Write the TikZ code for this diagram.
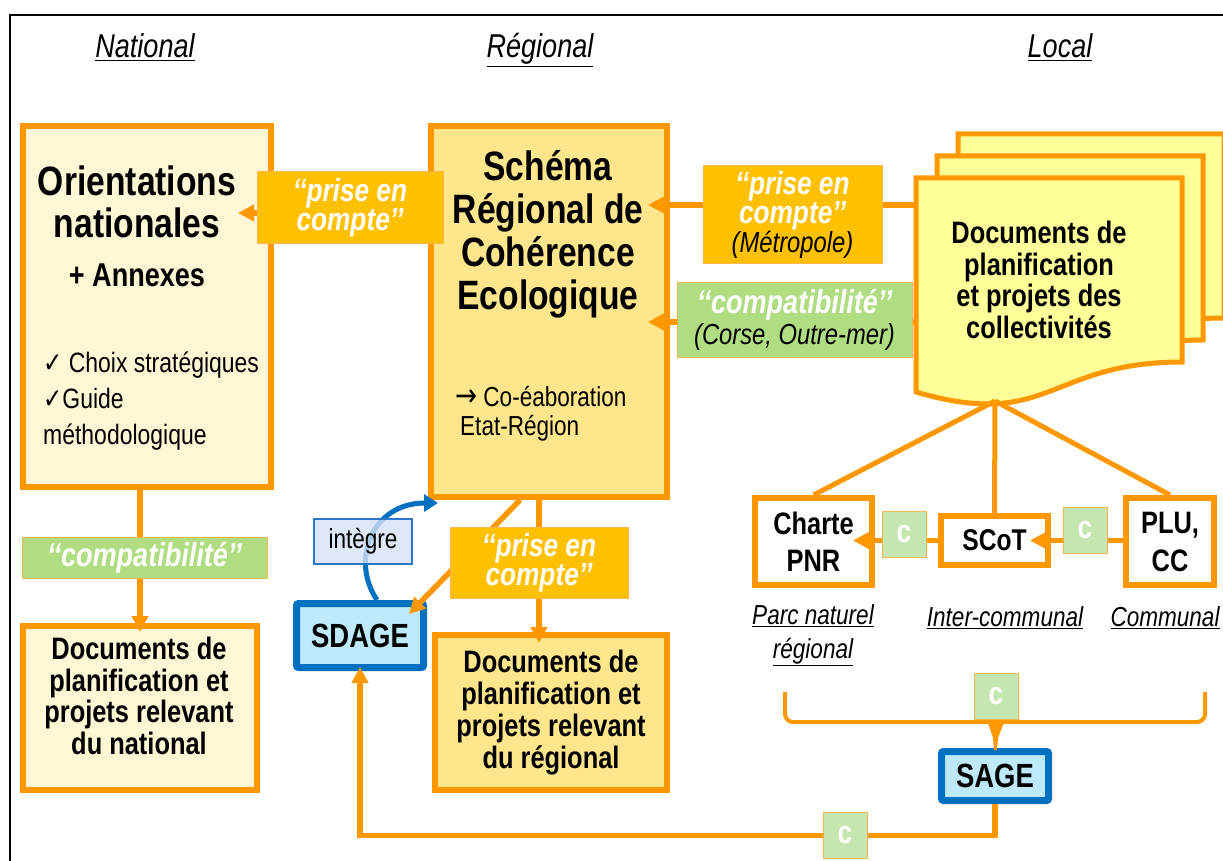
\documentclass[tikz,border=0pt]{standalone}
\usepackage{fontspec}
\setmainfont{Liberation Sans}[FakeStretch=0.82]
\newfontfamily\symbfont{DejaVu Sans}[FakeStretch=0.82]
\usetikzlibrary{arrows.meta}

\definecolor{orng}{RGB}{255,152,0}
\definecolor{cream}{RGB}{255,246,214}
\definecolor{gold}{RGB}{255,229,140}
\definecolor{docyel}{RGB}{255,255,153}
\definecolor{amber}{RGB}{255,192,0}
\definecolor{tagline}{RGB}{250,182,80}
\definecolor{compgreen}{RGB}{176,220,130}
\definecolor{cgreen}{RGB}{197,229,177}
\definecolor{sdblue}{RGB}{0,112,192}
\definecolor{sdfill}{RGB}{190,233,250}
\definecolor{intfill}{RGB}{214,225,245}
\definecolor{intline}{RGB}{46,117,200}

\tikzset{
  box/.style={draw=orng, line width=6pt, inner sep=0pt, align=center,
    font=\bfseries\fontsize{31}{32}\selectfont},
  bluebox/.style={draw=sdblue, fill=sdfill, line width=7pt, rounded corners=2pt,
    inner sep=0pt, minimum width=107pt, minimum height=49pt,
    font=\bfseries\fontsize{33.5}{34}\selectfont},
  title/.style={align=center, inner sep=0pt, font=\bfseries\fontsize{41}{42}\selectfont},
  doctext/.style={align=center, inner sep=0pt, font=\bfseries\fontsize{31}{31.5}\selectfont},
  plain/.style={inner sep=0pt, font=\fontsize{28}{36}\selectfont},
  heading/.style={inner sep=0pt, anchor=base, font=\itshape\fontsize{33}{33}\selectfont},
  levellabel/.style={inner sep=0pt, align=center, font=\itshape\fontsize{27.5}{34}\selectfont},
  tagbox/.style={draw=tagline, line width=1pt, fill=amber, text=white, inner sep=0pt,
    align=center, font=\bfseries\itshape\fontsize{32}{29}\selectfont},
  compbox/.style={tagbox, fill=compgreen, font=\bfseries\itshape\fontsize{33}{31}\selectfont},
  ctag/.style={draw=tagline, line width=1pt, fill=cgreen, text=white, inner sep=0pt,
    minimum width=44pt, minimum height=46pt, font=\bfseries\fontsize{32}{30}\selectfont},
  docpage/.style={draw=orng, fill=docyel, line width=5pt},
  link/.style={draw=orng, line width=5pt},
  conn/.style={draw=orng, line width=5.5pt, -{Triangle[length=16pt,width=16pt]}},
}
\newcommand{\note}[1]{{\mdseries\itshape\fontsize{29}{29}\selectfont\color{black}#1}}

\begin{document}
\begin{tikzpicture}[x=1pt, y=-1pt]
\useasboundingbox (0,0) rectangle (1223,861);
\draw[line width=2pt] (10,861) -- (10,15) -- (1223,15);

% levels
\node[heading] (hnat) at (145,58) {\underline{National}};
\node[heading] (hreg) at (540,58) {\underline{Régional}};
\node[heading] (hloc) at (1060,58) {\underline{Local}};

% national
\node[box, fill=cream, minimum width=248pt, minimum height=361pt] (orient) at (147,306.5) {};
\node[title] (orientT) at (137,202) {Orientations\\nationales};
\node[inner sep=0pt, font=\bfseries\fontsize{33}{33}\selectfont] (orientA) at (137,275) {+ Annexes};
\node[plain, anchor=west, align=left] (orientL) at (43,401)
  {{\symbfont ✓} Choix stratégiques\\{\symbfont ✓}Guide\\méthodologique};
\node[box, fill=cream, minimum width=234pt, minimum height=164pt] (natdocs) at (140,708) {};
\node[doctext] (natdocsT) at (139,696) {Documents de\\planification et\\projets relevant\\du national};

% regional
\node[box, fill=gold, minimum width=236pt, minimum height=371pt] (srce) at (549,311.5) {};
\node[title, font=\bfseries\fontsize{41}{43}\selectfont] (srceT) at (548,234) {Schéma\\Régional de\\Cohérence\\Ecologique};
\node[plain, anchor=west, align=left, font=\fontsize{27.5}{29}\selectfont] (srceN) at (455,414)
  {{\symbfont\fontsize{32}{29}\selectfont →} Co-éaboration\\\hspace*{5pt}Etat-Région};
\node[box, fill=gold, minimum width=232pt, minimum height=155pt] (regdocs) at (551,712.5)
  {Documents de\\planification et\\projets relevant\\du régional};
\node[bluebox, minimum width=127pt, minimum height=64pt] (sdage) at (360,635.5) {SDAGE};

% local
\foreach \d in {2,1,0}
  \draw[docpage, shift={(21*\d,-22*\d)}] (916,178) -- (1182,178) -- (1182,362)
    .. controls (1049,362) and (1049,431) .. (916,392) -- cycle;
\node[doctext] (docsT) at (1039,280) {Documents de\\planification\\et projets des\\collectivités};
\coordinate (docL1) at (916,205);
\coordinate (docL2) at (916,322);
\coordinate (docbot) at (995,401);

\node[box, fill=white, minimum width=117pt, minimum height=87pt,
  font=\bfseries\fontsize{31}{37}\selectfont] (charte) at (813.5,541.5) {Charte\\PNR};
\node[box, fill=white, minimum width=107pt, minimum height=49pt,
  font=\bfseries\fontsize{30}{30}\selectfont] (scot) at (994.5,540.5) {SCoT};
\node[box, fill=white, minimum width=88pt, minimum height=87pt,
  font=\bfseries\fontsize{31}{38}\selectfont] (plu) at (1170,541.5) {PLU,\\CC};
\node[levellabel] (lpnr) at (813,635) {\underline{Parc naturel}\\\underline{régional}};
\node[levellabel] (linter) at (1005,618) {\underline{Inter-communal}};
\node[levellabel] (lcom) at (1165,618) {\underline{Communal}};
\node[bluebox] (sage) at (995,776) {SAGE};

% tag places
\coordinate (c1pos) at (904,534);
\coordinate (c2pos) at (1085,530.5);
\coordinate (c3pos) at (996,696);
\coordinate (c4pos) at (845,835.5);

% links
\draw[conn, shorten >=-36pt] (srce.west |- 0,213) -- (orient.east |- 0,213);
\draw[conn, shorten >=-22pt] (docL1) -- (srce.east |- docL1);
\draw[conn, shorten >=-22pt] (docL2) -- (srce.east |- docL2);
\draw[conn, shorten >=-9pt] (natdocs.north |- orient.south) -- (natdocs.north);
\draw[conn, shorten >=-11pt] (539,0 |- srce.south) -- (539,0 |- regdocs.north);
\draw[conn] ([xshift=-29pt]srce.south) -- ([shift={(-18pt,-14pt)}]sdage.north east);
\draw[draw=sdblue, line width=5pt, -{Triangle[length=14pt,width=17pt]}]
  ([xshift=17pt]sdage.north) .. controls (350,560) and (372,503) .. (438,503);
\node[draw=intline, line width=1.5pt, fill=intfill, fill opacity=0.8, text opacity=1,
  minimum width=98pt, minimum height=45pt, inner sep=0pt,
  font=\fontsize{27.5}{28}\selectfont] (integre) at (363,541.5) {intègre};
\draw[link] (docbot) -- (charte.north);
\draw[link] (docbot) -- (scot.north);
\draw[link] (docbot) -- (plu.north);
\draw[conn, shorten >=-22pt] (scot.west) -- (charte.east |- scot.west);
\draw[conn, shorten >=-21pt] (plu.west |- scot.east) -- (scot.east);
\draw[draw=orng, line width=4pt, rounded corners=8pt] (785,692) |- (1205,722) -- (1205,692);
\fill[orng] (987,720) -- (1005,720) -- (998,738) -- (997,750) -- (994,750) -- (993,738) -- cycle;
\draw[conn, shorten >=-4pt] (sage.south) |- (c4pos) -| (sdage.south);

% tags
\node[tagbox, minimum width=186pt, minimum height=71pt] (tag1) at (350,207.5) {‘‘prise en\\compte’’};
\node[tagbox, minimum width=179pt, minimum height=97pt] (tag2) at (792.5,214.5)
  {‘‘prise en\\compte’’\\\note{(Métropole)}};
\node[compbox, minimum width=235pt, minimum height=75pt] (tag3) at (794.5,319.5)
  {‘‘compatibilité’’\\\note{(Corse, Outre-mer)}};
\node[compbox, minimum width=245pt, minimum height=41pt] (tag4) at (144.5,557.5) {‘‘compatibilité’’};
\node[tagbox, minimum width=178pt, minimum height=71pt] (tag5) at (539,562.5) {‘‘prise en\\compte’’};
\node[ctag] (c1) at (c1pos) {c};
\node[ctag] (c2) at (c2pos) {c};
\node[ctag] (c3) at (c3pos) {c};
\node[ctag] (c4) at (c4pos) {c};
\end{tikzpicture}
\end{document}
